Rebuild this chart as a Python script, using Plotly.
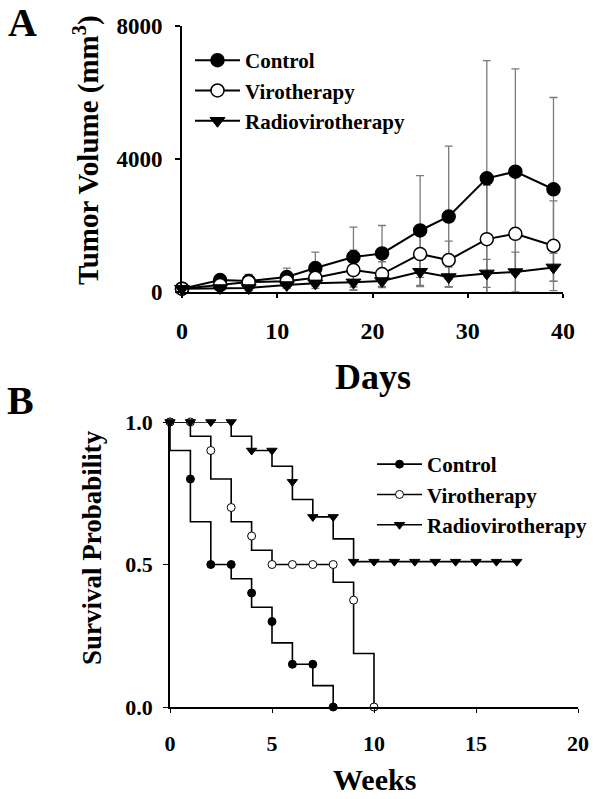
import plotly.graph_objects as go

# ---------------- Panel A data (tumor volume, mm^3) ----------------
days = [0, 4, 7, 11, 14, 18, 21, 25, 28, 32, 35, 39]
control_vol = [100, 360, 330, 450, 720, 1050, 1160, 1850, 2270, 3420, 3620, 3090]
viro_vol = [100, 210, 300, 320, 430, 660, 540, 1140, 960, 1590, 1750, 1390]
radio_vol = [100, 120, 120, 210, 260, 290, 330, 610, 450, 560, 600, 740]
control_err = [0, 80, 200, 270, 480, 900, 840, 1650, 2120, 3540, 3090, 2760]
viro_err = [0, 100, 150, 200, 250, 600, 370, 700, 570, 1620, 2000, 1350]
radio_err = [0, 50, 80, 100, 150, 240, 200, 450, 300, 420, 600, 420]
days_ticks = [0, 10, 20, 30, 40]
vol_ticks = [0, 4000, 8000]

# ---------------- Panel B data (survival) ----------------
ctrl_weeks = [0, 1, 2, 3, 4, 5, 6, 7, 8]
ctrl_surv = [1.0, 0.8, 0.5, 0.5, 0.4, 0.3, 0.15, 0.15, 0.0]
ctrl_step_x = [0, 0, 1, 2, 3, 4, 5, 6, 7, 8]
ctrl_step_y = [1.0, 0.9, 0.65, 0.5, 0.45, 0.35, 0.225, 0.15, 0.075, 0.0]

viro_weeks = [0, 1, 2, 3, 4, 5, 6, 7, 8, 9, 10]
viro_surv = [1.0, 1.0, 0.9, 0.7, 0.6, 0.5, 0.5, 0.5, 0.5, 0.375, 0.0]
viro_step_x = [0, 1, 2, 3, 4, 5, 8, 9, 10]
viro_step_y = [1.0, 0.95, 0.8, 0.65, 0.55, 0.5, 0.4375, 0.1875, 0.0]

radio_weeks = [0, 1, 2, 3, 4, 5, 6, 7, 8, 9, 10, 11, 12, 13, 14, 15, 16, 17]
radio_surv = [1.0, 1.0, 1.0, 1.0, 0.9, 0.9, 0.79, 0.667, 0.667,
              0.51, 0.51, 0.51, 0.51, 0.51, 0.51, 0.51, 0.51, 0.51]
radio_step_x = [0, 3, 4, 5, 6, 7, 8, 9, 17]
radio_step_y = [1.0, 0.95, 0.9, 0.845, 0.728, 0.667, 0.59, 0.51, 0.51]
weeks_ticks = [0, 5, 10, 15, 20]
surv_ticks = [0.0, 0.5, 1.0]

series_names = ["Control", "Virotherapy", "Radiovirotherapy"]

W, H = 604, 799
SERIF = "Liberation Serif"


def px_x(p):
    return p / W


def px_y(p):
    return 1 - p / H


fig = go.Figure()

# ---- Panel A: error bars (drawn first, behind markers) ----
for vals, errs in [(control_vol, control_err), (viro_vol, viro_err), (radio_vol, radio_err)]:
    fig.add_trace(go.Scatter(
        x=days, y=vals, mode="markers",
        marker=dict(size=1, color="rgba(0,0,0,0)"),
        error_y=dict(type="data", array=errs, symmetric=True,
                     color="#7a7a7a", thickness=1.3, width=4),
        showlegend=False, hoverinfo="skip", xaxis="x", yaxis="y",
    ))

styles_a = [
    dict(symbol="circle", color="black", line=dict(color="black", width=1.5), size=13),
    dict(symbol="circle", color="white", line=dict(color="black", width=1.5), size=13),
    dict(symbol="triangle-down", color="black", line=dict(color="black", width=1), size=13),
]
for name, vals, st in zip(series_names, [control_vol, viro_vol, radio_vol], styles_a):
    fig.add_trace(go.Scatter(
        x=days, y=vals, mode="lines+markers", name=name,
        line=dict(color="black", width=2), marker=st,
        cliponaxis=False, xaxis="x", yaxis="y", legend="legend",
    ))

# ---- Panel B: step lines ----
for sx, sy in [(ctrl_step_x, ctrl_step_y), (viro_step_x, viro_step_y), (radio_step_x, radio_step_y)]:
    fig.add_trace(go.Scatter(
        x=sx, y=sy, mode="lines", line=dict(color="black", width=1.6, shape="hv"),
        showlegend=False, hoverinfo="skip", xaxis="x2", yaxis="y2", cliponaxis=False,
    ))

styles_b = [
    dict(symbol="circle", color="black", line=dict(color="black", width=1), size=8),
    dict(symbol="circle", color="white", line=dict(color="black", width=1), size=8),
    dict(symbol="triangle-down", color="black", line=dict(color="black", width=1), size=9),
]
for name, wx, wy, st in zip(series_names, [ctrl_weeks, viro_weeks, radio_weeks],
                             [ctrl_surv, viro_surv, radio_surv], styles_b):
    fig.add_trace(go.Scatter(
        x=wx, y=wy, mode="markers", marker=st, showlegend=False,
        xaxis="x2", yaxis="y2", cliponaxis=False,
    ))
    # legend entry (line + marker symbol)
    fig.add_trace(go.Scatter(
        x=[None], y=[None], mode="lines+markers", name=name,
        line=dict(color="black", width=1.6), marker=st,
        xaxis="x2", yaxis="y2", legend="legend2",
    ))

axis_common = dict(showline=True, linecolor="black", showgrid=False, zeroline=False,
                   ticks="outside", tickcolor="black", mirror=False, automargin=False)

fig.update_layout(
    width=W, height=H,
    margin=dict(l=0, r=0, t=0, b=0, autoexpand=False),
    paper_bgcolor="white", plot_bgcolor="white",
    font=dict(family=SERIF, color="black"),
    xaxis=dict(axis_common, domain=[px_x(182), px_x(563)], range=[0, 40],
               tickvals=days_ticks, linewidth=2, ticklen=4, tickwidth=1.5,
               tickfont=dict(family=SERIF, size=24, weight="bold"),
               ticklabelstandoff=12, anchor="y"),
    yaxis=dict(axis_common, domain=[px_y(292), px_y(26)], range=[0, 8000],
               tickvals=vol_ticks, linewidth=2, ticklen=5, tickwidth=1.5,
               tickfont=dict(family=SERIF, size=23, weight="bold"),
               ticklabelstandoff=8, anchor="x"),
    xaxis2=dict(axis_common, domain=[px_x(170), px_x(578)], range=[0, 20],
                tickvals=weeks_ticks, linewidth=1.6, ticklen=4, tickwidth=1.2,
                tickfont=dict(family=SERIF, size=22, weight="bold"),
                ticklabelstandoff=12, anchor="y2"),
    yaxis2=dict(axis_common, domain=[px_y(707), px_y(422)], range=[0, 1],
                tickvals=surv_ticks, tickformat=".1f", linewidth=1.6, ticklen=5, tickwidth=1.2,
                tickfont=dict(family=SERIF, size=22, weight="bold"),
                ticklabelstandoff=6, anchor="x2"),
    legend=dict(x=px_x(190), y=px_y(40), xanchor="left", yanchor="top",
                font=dict(family=SERIF, size=21, weight="bold"),
                bgcolor="rgba(0,0,0,0)", itemwidth=45, tracegroupgap=0),
    legend2=dict(x=px_x(372), y=px_y(444), xanchor="left", yanchor="top",
                 font=dict(family=SERIF, size=21, weight="bold"),
                 bgcolor="rgba(0,0,0,0)", itemwidth=45, tracegroupgap=0),
    showlegend=True,
)

annos = [
    dict(text="A", x=px_x(22), y=px_y(22), size=40),
    dict(text="B", x=px_x(20), y=px_y(400), size=40),
    dict(text="Days", x=px_x(373), y=px_y(377), size=36),
    dict(text="Weeks", x=px_x(374), y=px_y(779), size=30),
]
for a in annos:
    fig.add_annotation(text=a["text"], x=a["x"], y=a["y"], xref="paper", yref="paper",
                       xanchor="center", yanchor="middle", showarrow=False,
                       font=dict(family=SERIF, size=a["size"], weight="bold", color="black"))

fig.add_annotation(text="Tumor Volume (mm<sup>3</sup>)", x=px_x(86), y=px_y(150),
                   xref="paper", yref="paper", xanchor="center", yanchor="middle",
                   textangle=-90, showarrow=False,
                   font=dict(family=SERIF, size=29, weight="bold", color="black"))
fig.add_annotation(text="Survival Probability", x=px_x(92), y=px_y(548),
                   xref="paper", yref="paper", xanchor="center", yanchor="middle",
                   textangle=-90, showarrow=False,
                   font=dict(family=SERIF, size=27, weight="bold", color="black"))

# remove the browser's default 8px page margin so the figure sits at (0, 0)
fig.write_html("out.html",
               config={"displayModeBar": False},
               post_script="document.body.style.margin='0';document.body.style.padding='0';")
